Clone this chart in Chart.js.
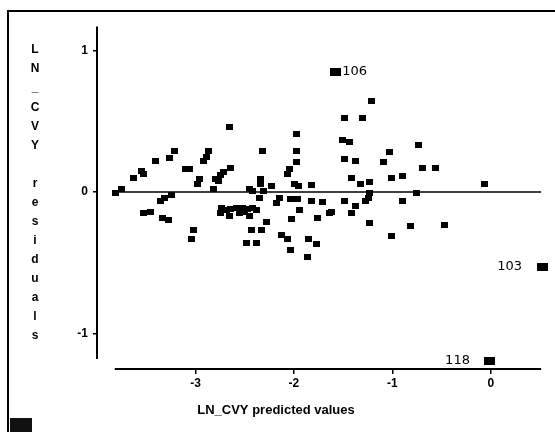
<!DOCTYPE html>
<html>
<head>
<meta charset="utf-8">
<script src="https://cdn.jsdelivr.net/npm/chart.js@4"></script>
<style>
  body { margin: 0; background: #fff; }
  #wrap { position: relative; width: 555px; height: 432px; overflow: hidden; background: #fff; }
  #plot { position: absolute; left: 0; top: 0; }
  .frame-top { position: absolute; left: 7px; top: 10px; width: 548px; height: 2px; background: #000; }
  .frame-left { position: absolute; left: 7px; top: 10px; width: 2px; height: 422px; background: #000; }
  .corner { position: absolute; left: 10px; top: 418px; width: 22px; height: 14px; background: #111; }
</style>
</head>
<body>
<div id="wrap">
  <canvas id="plot" width="555" height="432"></canvas>
  <div class="frame-top"></div>
  <div class="frame-left"></div>
  <div class="corner"></div>
</div>
<script>
// predicted values (x) and residuals (y)
const predicted = [
  -3.81, -3.75, -3.63, -3.55, -3.53, -3.41, -3.26, -3.21, -3.10, -3.06,
  -2.98, -2.96, -2.92, -2.89, -2.87, -2.65, -2.64, -2.72, -2.75, -2.80,
  -2.77, -2.82, -2.32, -2.34, -2.34, -2.45, -2.42, -2.31, -2.23, -2.07,
  -2.05, -1.99, -1.95,
  -1.21, -1.49, -1.30, -1.97, -1.51, -1.44, -1.97, -0.74, -1.03, -1.97,
  -1.49, -1.38, -1.09, -0.69, -0.56, -1.01, -0.90, -1.42, -1.32, -1.23,
  -1.82, -0.07, -1.23, -0.76,
  -3.36, -3.31, -3.24, -3.53, -3.46, -3.33, -3.27, -3.02, -3.04,
  -2.74, -2.69, -2.64, -2.58, -2.52, -2.47, -2.42, -2.38, -2.75, -2.65,
  -2.55, -2.45, -2.50,
  -2.35, -2.18, -2.15, -2.04, -1.94, -2.03, -2.28, -2.43, -2.33, -2.13,
  -2.07, -2.48, -2.38, -2.04, -1.96, -1.82, -1.71, -1.49, -1.27, -1.24,
  -1.38, -1.62, -1.64, -1.42, -1.76, -1.23, -1.85, -1.77, -1.86,
  -0.90, -0.82, -0.47, -1.01
];
const residuals = [
  -0.01, 0.02, 0.10, 0.15, 0.13, 0.22, 0.24, 0.29, 0.16, 0.16,
  0.06, 0.09, 0.22, 0.25, 0.29, 0.46, 0.17, 0.14, 0.12, 0.09,
  0.08, 0.02, 0.29, 0.09, 0.06, 0.02, 0.01, 0.01, 0.04, 0.13,
  0.16, 0.06, 0.04,
  0.64, 0.52, 0.52, 0.41, 0.37, 0.35, 0.29, 0.33, 0.28, 0.21,
  0.23, 0.22, 0.21, 0.17, 0.17, 0.10, 0.11, 0.10, 0.06, 0.07,
  0.05, 0.06, -0.01, -0.01,
  -0.06, -0.04, -0.02, -0.15, -0.14, -0.18, -0.20, -0.27, -0.33,
  -0.11, -0.13, -0.12, -0.11, -0.11, -0.12, -0.11, -0.13, -0.15, -0.17,
  -0.15, -0.17, -0.14,
  -0.04, -0.08, -0.04, -0.05, -0.13, -0.19, -0.21, -0.27, -0.27, -0.30,
  -0.33, -0.36, -0.36, -0.41, -0.05, -0.06, -0.07, -0.06, -0.06, -0.04,
  -0.10, -0.14, -0.15, -0.15, -0.18, -0.22, -0.33, -0.37, -0.46,
  -0.06, -0.24, -0.23, -0.31
];

// labelled cases
const caseIds = ['106', '103', '118'];
const caseX = [-1.58, 0.52, -0.01];
const caseY = [0.85, -0.53, -1.19];
const caseSide = ['right', 'left', 'left'];

const xTicks = [-3, -2, -1, 0];
const yTicks = [-1, 0, 1];

// extents of the drawn axis lines
const xAxisStart = -3.82, xAxisEnd = 0.51;
const yAxisTop = 1.17, yAxisBottom = -1.18;

function markCanvas(w, h) {
  const c = document.createElement('canvas');
  c.width = w;
  c.height = h;
  const g = c.getContext('2d');
  g.fillStyle = '#000';
  g.fillRect(0, 0, w, h);
  return c;
}

const sans = '"Liberation Sans", Arial, sans-serif';

const residualAxes = {
  id: 'residualAxes',
  beforeDatasetsDraw(chart) {
    const { ctx, chartArea } = chart;
    const x = chart.scales.x, y = chart.scales.y;
    ctx.save();
    ctx.strokeStyle = '#000';
    ctx.lineWidth = 2;
    ctx.beginPath();
    ctx.moveTo(chartArea.left, y.getPixelForValue(yAxisTop));
    ctx.lineTo(chartArea.left, y.getPixelForValue(yAxisBottom));
    ctx.moveTo(x.getPixelForValue(xAxisStart), chartArea.bottom);
    ctx.lineTo(x.getPixelForValue(xAxisEnd), chartArea.bottom);
    ctx.stroke();
    // zero reference line
    ctx.lineWidth = 1.5;
    ctx.beginPath();
    ctx.moveTo(x.getPixelForValue(xAxisStart), y.getPixelForValue(0));
    ctx.lineTo(x.getPixelForValue(xAxisEnd), y.getPixelForValue(0));
    ctx.stroke();
    ctx.restore();
  },
  afterDatasetsDraw(chart) {
    const { ctx } = chart;
    const x = chart.scales.x, y = chart.scales.y;
    ctx.save();
    ctx.fillStyle = '#000';

    // case numbers next to the outliers
    ctx.font = '13px "DejaVu Sans", sans-serif';
    ctx.textBaseline = 'middle';
    caseIds.forEach((id, i) => {
      const px = x.getPixelForValue(caseX[i]);
      const py = y.getPixelForValue(caseY[i]);
      if (caseSide[i] === 'right') {
        ctx.textAlign = 'left';
        ctx.fillText(id, px + 7, py);
      } else {
        ctx.textAlign = 'right';
        ctx.fillText(id, px - 20, py);
      }
    });

    // stacked y title
    ctx.font = 'bold 12px ' + sans;
    ctx.textAlign = 'center';
    const yTitle = 'LN_CVY residuals';
    for (let i = 0; i < yTitle.length; i++) {
      ctx.fillText(yTitle[i], 35, 50 + i * 19.07);
    }

    // x title
    ctx.font = 'bold 13px ' + sans;
    ctx.fillText('LN_CVY predicted values', 276, 410);
    ctx.restore();
  }
};

const chart = new Chart(document.getElementById('plot'), {
  type: 'scatter',
  data: {
    datasets: [
      {
        data: predicted.map((v, i) => ({ x: v, y: residuals[i] })),
        pointStyle: markCanvas(7, 6),
        pointRadius: 3,
        clip: false
      },
      {
        data: caseX.map((v, i) => ({ x: v, y: caseY[i] })),
        pointStyle: markCanvas(11, 8),
        pointRadius: 4,
        clip: false
      }
    ]
  },
  options: {
    responsive: false,
    animation: false,
    layout: { padding: { left: 57, top: 25, right: 4, bottom: 33 } },
    plugins: { legend: { display: false }, tooltip: { enabled: false } },
    scales: {
      x: {
        type: 'linear',
        min: -4.0,
        max: 0.6,
        afterBuildTicks: s => { s.ticks = xTicks.map(v => ({ value: v })); },
        afterFit: s => { s.height = 30; },
        border: { display: false },
        grid: { drawOnChartArea: false, color: '#000', tickLength: 5, lineWidth: 1.5 },
        ticks: {
          color: '#000',
          padding: 2,
          font: { family: sans, size: 12, weight: 'bold' },
          callback: v => String(v)
        }
      },
      y: {
        type: 'linear',
        min: -1.25,
        max: 1.18,
        afterBuildTicks: s => { s.ticks = yTicks.map(v => ({ value: v })); },
        afterFit: s => { s.width = 40; },
        border: { display: false },
        grid: { drawOnChartArea: false, color: '#000', tickLength: 4, lineWidth: 1.5 },
        ticks: {
          color: '#000',
          padding: 5,
          font: { family: sans, size: 12, weight: 'bold' },
          callback: v => String(v)
        }
      }
    }
  },
  plugins: [residualAxes]
});
</script>
</body>
</html>
